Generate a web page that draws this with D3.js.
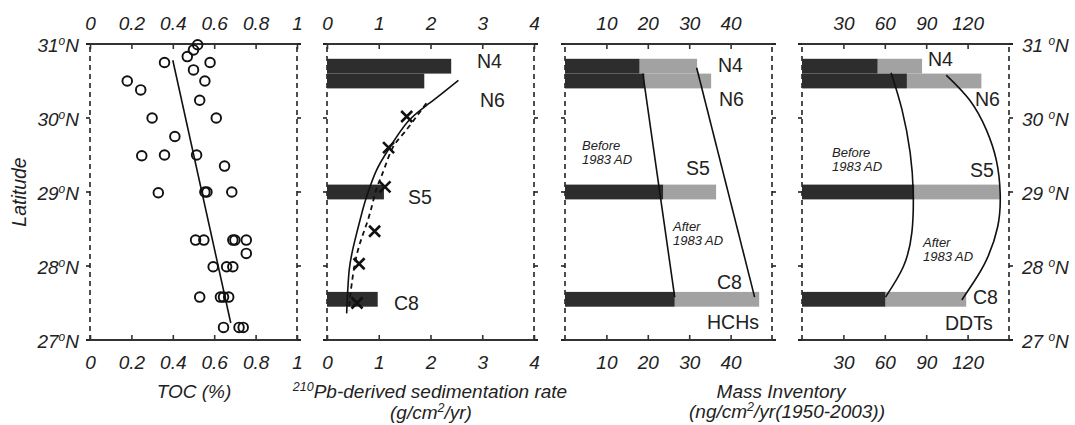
<!DOCTYPE html>
<html>
<head>
<meta charset="utf-8">
<script src="https://cdn.jsdelivr.net/npm/d3@7"></script>
<style>
  body { margin: 0; background: #fff; }
  svg { font-family: "Liberation Sans", Arial, sans-serif; }
</style>
</head>
<body>
<svg id="chart" width="1075" height="425"></svg>
<script>
// latitude ticks shared by all panels
const latTicks = [27, 28, 29, 30, 31];

// panel 1: TOC (%) vs latitude
const tocLat = [30.99, 30.92, 30.83, 30.75, 30.75, 30.65, 30.5, 30.5, 30.38, 30.24,
  30.0, 30.0, 29.75, 29.49, 29.5, 29.5, 29.35, 28.99, 29.0, 29.0, 29.0,
  28.35, 28.35, 28.35, 28.35, 28.35, 28.17, 27.99, 27.99, 27.99,
  27.58, 27.58, 27.58, 27.58, 27.17, 27.17, 27.17];
const tocVal = [0.52, 0.50, 0.47, 0.36, 0.58, 0.50, 0.555, 0.18, 0.245, 0.53,
  0.30, 0.61, 0.41, 0.25, 0.36, 0.515, 0.65, 0.33, 0.555, 0.565, 0.685,
  0.51, 0.55, 0.69, 0.70, 0.755, 0.755, 0.595, 0.66, 0.69,
  0.53, 0.63, 0.645, 0.67, 0.645, 0.72, 0.74];
const tocFitLat = [30.78, 27.23];
const tocFitVal = [0.40, 0.68];

// cores
const stations = ["N4", "N6", "S5", "C8"];
const stationLat = [30.7, 30.5, 29.0, 27.55];

// panel 2: sedimentation rate
const sedRate = [2.4, 1.88, 1.1, 0.98];
const pbLat = [30.02, 29.6, 29.07, 28.47, 28.03, 27.5];
const pbRate = [1.54, 1.19, 1.12, 0.92, 0.62, 0.58];
const fitSolidLat = [30.51, 30.2, 29.95, 29.6, 29.3, 28.99, 28.76, 28.35, 27.95, 27.36];
const fitSolidRate = [2.54, 1.98, 1.56, 1.21, 0.96, 0.79, 0.69, 0.54, 0.43, 0.38];
const fitDashLat = [30.2, 29.81, 29.6, 29.34, 29.16, 28.98, 28.62, 28.22, 27.77, 27.4];
const fitDashRate = [1.92, 1.5, 1.27, 1.12, 1.02, 0.93, 0.79, 0.60, 0.48, 0.42];

// panel 3: HCHs inventory (before 1983 / total)
const hchBefore = [18.0, 19.2, 23.7, 26.5];
const hchTotal = [31.9, 35.3, 36.5, 46.9];
const hchLineA = [[18.8, 30.6], [26.5, 27.58]];
const hchLineB = [[31.8, 30.68], [45.8, 27.58]];

// panel 4: DDTs inventory (before 1983 / total)
const ddtBefore = [54.8, 76, 81.3, 60.4];
const ddtTotal = [87, 130, 143.5, 119];
const ddtCurveA = [[64.6, 30.61], [72.5, 30.11], [78.4, 29.53], [80.6, 28.99], [79.6, 28.45], [73.4, 27.99], [60.5, 27.58]];
const ddtCurveB = [[104.5, 30.58], [121.6, 30.24], [133.6, 29.84], [140.8, 29.43], [143.6, 28.99], [141.8, 28.53], [133.6, 28.08], [124, 27.77], [115.8, 27.54]];

const panelDefs = [
  { left: 90, domain: [0, 1], ticks: [0, 0.2, 0.4, 0.6, 0.8, 1] },
  { left: 327, domain: [0, 4], ticks: [0, 1, 2, 3, 4] },
  { left: 565, domain: [0, 50], ticks: [10, 20, 30, 40] },
  { left: 802, domain: [0, 150], ticks: [30, 60, 90, 120] },
];
const panelW = 207;
const yTop = 44, yBottom = 340;
const ink = "#222";
const dark = "#2d2d2d", light = "#a2a2a2";
const tickFont = 19;

const svg = d3.select("#chart");
const y = d3.scaleLinear().domain([27, 31]).range([yBottom, yTop]);
const barH = y(30.6) - y(30.8);

const xs = panelDefs.map((p) =>
  d3.scaleLinear().domain(p.domain).range([p.left, p.left + panelW])
);

// frames, axes
panelDefs.forEach((p, i) => {
  const x = xs[i];
  const g = svg.append("g");
  const l = p.left, r = p.left + panelW;

  // dashed sides
  [l, r].forEach((xx) => {
    g.append("line").attr("x1", xx).attr("x2", xx).attr("y1", yTop + 3).attr("y2", yBottom)
      .attr("stroke", ink).attr("stroke-width", 1.6).attr("stroke-dasharray", "5,4");
  });
  // top / bottom axis lines
  [yTop, yBottom].forEach((yy) => {
    g.append("line").attr("x1", l - 4).attr("x2", r + 4).attr("y1", yy).attr("y2", yy)
      .attr("stroke", "#333").attr("stroke-width", 1.8);
  });

  const fmt = (d) => String(d);
  const ax = g.append("g").attr("transform", `translate(0,${yTop})`)
    .call(d3.axisTop(x).tickValues(p.ticks).tickSizeInner(-5).tickSizeOuter(0).tickPadding(14).tickFormat(fmt));
  const bx = g.append("g").attr("transform", `translate(0,${yBottom})`)
    .call(d3.axisBottom(x).tickValues(p.ticks).tickSizeInner(-5).tickSizeOuter(0).tickPadding(16).tickFormat(fmt));
  [ax, bx].forEach((a) => {
    a.select(".domain").remove();
    a.selectAll(".tick line").attr("stroke", "#333").attr("stroke-width", 1.6);
    a.selectAll(".tick text").attr("font-size", tickFont).attr("font-style", "italic")
      .attr("fill", ink).attr("font-family", "Liberation Sans, Arial, sans-serif");
  });

  // latitude ticks, outward
  latTicks.forEach((t) => {
    g.append("line").attr("x1", l - 4).attr("x2", l).attr("y1", y(t)).attr("y2", y(t))
      .attr("stroke", ink).attr("stroke-width", 1.6);
    g.append("line").attr("x1", r).attr("x2", r + 4).attr("y1", y(t)).attr("y2", y(t))
      .attr("stroke", ink).attr("stroke-width", 1.6);
  });
});

// latitude labels
function latLabel(xPos, t, anchor, gap) {
  const txt = svg.append("text").attr("x", xPos).attr("y", y(t) + 8)
    .attr("text-anchor", anchor).attr("font-size", tickFont).attr("font-style", "italic").attr("fill", ink);
  txt.append("tspan").text(t + gap);
  txt.append("tspan").attr("font-size", 12).attr("dy", -7).text("o");
  txt.append("tspan").attr("dy", 7).text("N");
}
latTicks.forEach((t) => {
  latLabel(79, t, "end", "");
  latLabel(1022, t, "start", " ");
});

svg.append("text").attr("transform", "translate(26,192) rotate(-90)")
  .attr("text-anchor", "middle").attr("font-size", 19.5).attr("font-style", "italic")
  .attr("fill", ink).text("Latitude");

// ---- panel 1
const x1 = xs[0];
svg.append("line")
  .attr("x1", x1(tocFitVal[0])).attr("y1", y(tocFitLat[0]))
  .attr("x2", x1(tocFitVal[1])).attr("y2", y(tocFitLat[1]))
  .attr("stroke", "#111").attr("stroke-width", 1.6);
svg.append("g").selectAll("circle").data(tocVal).join("circle")
  .attr("cx", (d) => x1(d)).attr("cy", (d, i) => y(tocLat[i])).attr("r", 4.8)
  .attr("fill", "none").attr("stroke", "#111").attr("stroke-width", 1.9);

// ---- panel 2
const x2 = xs[1];
svg.append("g").selectAll("rect").data(sedRate).join("rect")
  .attr("x", x2(0)).attr("y", (d, i) => y(stationLat[i]) - barH / 2)
  .attr("width", (d) => x2(d) - x2(0)).attr("height", barH).attr("fill", dark);

const curve = d3.line().curve(d3.curveNatural);
svg.append("path")
  .attr("d", curve(fitSolidRate.map((d, i) => [x2(d), y(fitSolidLat[i])])))
  .attr("fill", "none").attr("stroke", "#111").attr("stroke-width", 1.6);
svg.append("path")
  .attr("d", curve(fitDashRate.map((d, i) => [x2(d), y(fitDashLat[i])])))
  .attr("fill", "none").attr("stroke", "#111").attr("stroke-width", 1.8).attr("stroke-dasharray", "5,4");

const cs = 5.5;
svg.append("g").selectAll("path").data(pbRate).join("path")
  .attr("d", (d, i) => {
    const cx = x2(d), cy = y(pbLat[i]);
    return `M${cx - cs},${cy - cs}L${cx + cs},${cy + cs}M${cx - cs},${cy + cs}L${cx + cs},${cy - cs}`;
  })
  .attr("stroke", "#111").attr("stroke-width", 2.6);

// ---- panel 3 and 4 stacked bars
function stackBars(x, before, total) {
  const g = svg.append("g");
  g.selectAll("rect.lt").data(total).join("rect").attr("class", "lt")
    .attr("x", (d, i) => x(before[i])).attr("y", (d, i) => y(stationLat[i]) - barH / 2)
    .attr("width", (d, i) => x(d) - x(before[i])).attr("height", barH).attr("fill", light);
  g.selectAll("rect.dk").data(before).join("rect").attr("class", "dk")
    .attr("x", x(0)).attr("y", (d, i) => y(stationLat[i]) - barH / 2)
    .attr("width", (d) => x(d) - x(0)).attr("height", barH).attr("fill", dark);
}
const x3 = xs[2], x4 = xs[3];
stackBars(x3, hchBefore, hchTotal);
stackBars(x4, ddtBefore, ddtTotal);

[hchLineA, hchLineB].forEach((ln) => {
  svg.append("path").attr("d", d3.line()(ln.map((p) => [x3(p[0]), y(p[1])])))
    .attr("fill", "none").attr("stroke", "#111").attr("stroke-width", 1.6);
});
[ddtCurveA, ddtCurveB].forEach((ln) => {
  svg.append("path").attr("d", curve(ln.map((p) => [x4(p[0]), y(p[1])])))
    .attr("fill", "none").attr("stroke", "#111").attr("stroke-width", 1.6);
});

// ---- station and period labels
function label(x, yy, s, size, italic) {
  svg.append("text").attr("x", x).attr("y", yy).attr("font-size", size)
    .attr("font-style", italic ? "italic" : "normal").attr("fill", ink).text(s);
}
const sf = 19.5;
label(477, 68, "N4", sf); label(480, 107, "N6", sf); label(408, 204, "S5", sf); label(394, 310, "C8", sf);
label(718, 72, "N4", sf); label(719, 106, "N6", sf); label(686, 175, "S5", sf); label(717, 289, "C8", sf);
label(707, 329, "HCHs", sf);
label(928, 66, "N4", sf); label(975, 106, "N6", sf); label(970, 177, "S5", sf); label(973, 304, "C8", sf);
label(945, 330, "DDTs", sf);
label(582, 150, "Before", 13, true); label(582, 164, "1983 AD", 13, true);
label(673, 231, "After", 13, true); label(673, 245, "1983 AD", 13, true);
label(832, 157, "Before", 13, true); label(832, 171, "1983 AD", 13, true);
label(923, 247, "After", 13, true); label(923, 261, "1983 AD", 13, true);

// ---- axis titles; parts are [text, isSuperscript]
function title(x, yy, parts) {
  const t = svg.append("text").attr("x", x).attr("y", yy).attr("text-anchor", "middle")
    .attr("font-size", 19).attr("font-style", "italic").attr("fill", ink);
  let raised = false;
  parts.forEach(([s, sup]) => {
    const ts = t.append("tspan").text(s);
    if (sup) { ts.attr("font-size", 12.5).attr("dy", raised ? 0 : -7); raised = true; }
    else { ts.attr("dy", raised ? 7 : 0); raised = false; }
  });
}
title(194, 398, [["TOC (%)"]]);
title(430, 398, [["210", true], ["Pb-derived sedimentation rate"]]);
title(431, 419, [["(g/cm"], ["2", true], ["/yr)"]]);
title(781, 398, [["Mass Inventory"]]);
title(787, 418, [["(ng/cm"], ["2", true], ["/yr(1950-2003))"]]);
</script>
</body>
</html>
